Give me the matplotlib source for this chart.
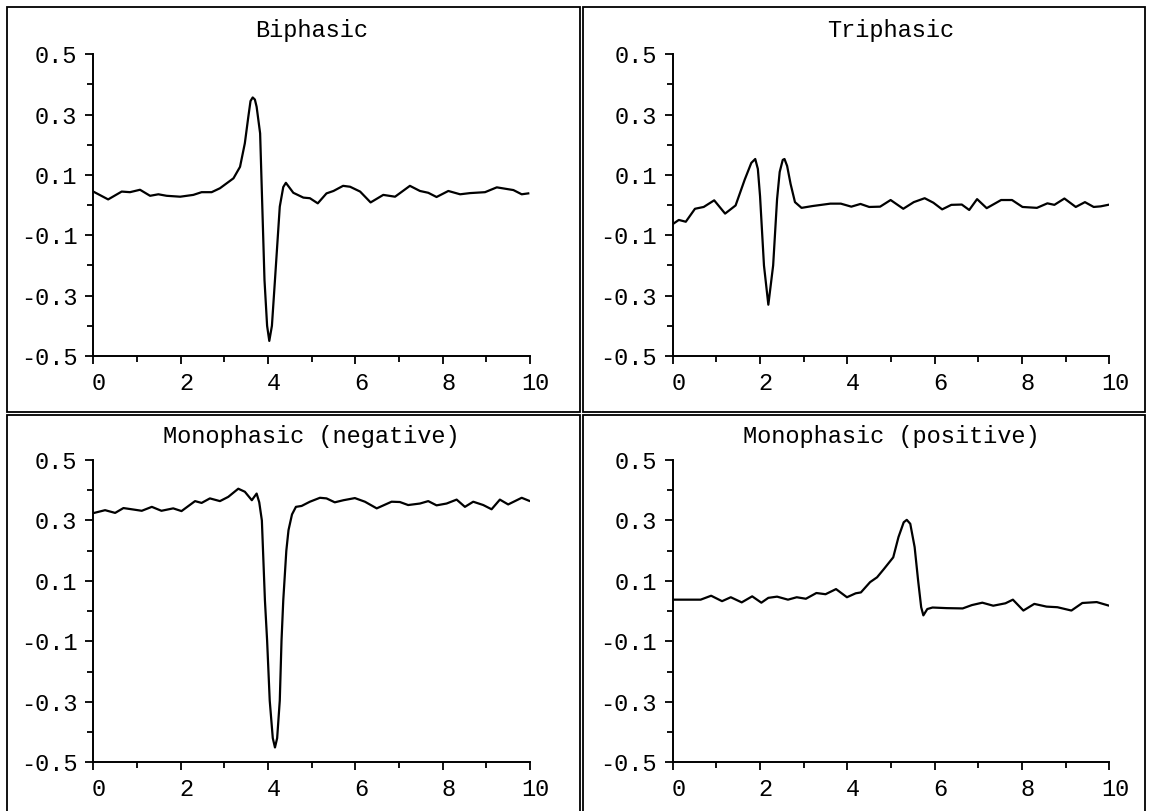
import matplotlib
matplotlib.use("Agg")
import matplotlib.pyplot as plt
from matplotlib.patches import Rectangle
from matplotlib.transforms import ScaledTranslation

plt.rcParams['font.family'] = ['Liberation Mono', 'DejaVu Sans Mono']
plt.rcParams['axes.unicode_minus'] = False

# --- data (time, amplitude) ---
bi_t = [0.0, 0.34, 0.65, 0.84, 1.07, 1.30, 1.49, 1.68, 1.99, 2.29, 2.48, 2.71,
        2.90, 3.21, 3.36, 3.47, 3.55, 3.60, 3.65, 3.70, 3.74, 3.82, 3.92, 3.98,
        4.03, 4.09, 4.16, 4.27, 4.35, 4.41, 4.58, 4.81, 4.96, 5.14, 5.34, 5.50,
        5.72, 5.88, 6.11, 6.35, 6.64, 6.91, 7.25, 7.48, 7.67, 7.86, 8.13, 8.40,
        8.63, 8.97, 9.24, 9.62, 9.81, 9.96]
bi_v = [0.045, 0.019, 0.045, 0.043, 0.051, 0.031, 0.036, 0.031, 0.028, 0.034,
        0.043, 0.043, 0.056, 0.089, 0.127, 0.205, 0.293, 0.345, 0.357, 0.350,
        0.326, 0.238, -0.248, -0.40, -0.45, -0.40, -0.248, -0.005, 0.06, 0.074,
        0.041, 0.025, 0.023, 0.006, 0.039, 0.047, 0.064, 0.061, 0.045, 0.009,
        0.034, 0.028, 0.064, 0.047, 0.041, 0.027, 0.047, 0.036, 0.040, 0.043,
        0.059, 0.050, 0.036, 0.039]

tri_t = [0.02, 0.14, 0.30, 0.51, 0.71, 0.95, 1.20, 1.44, 1.65, 1.80, 1.89, 1.95,
         2.00, 2.09, 2.19, 2.30, 2.39, 2.45, 2.52, 2.56, 2.62, 2.70, 2.80, 2.95,
         3.20, 3.61, 3.85, 4.09, 4.30, 4.50, 4.75, 4.99, 5.28, 5.52, 5.77, 5.97,
         6.17, 6.38, 6.62, 6.79, 6.97, 7.19, 7.52, 7.77, 8.01, 8.34, 8.58, 8.74,
         8.97, 9.23, 9.44, 9.64, 9.80, 9.97]
tri_v = [-0.061, -0.049, -0.055, -0.012, -0.006, 0.016, -0.028, -0.001, 0.085,
         0.140, 0.153, 0.120, 0.030, -0.200, -0.330, -0.200, 0.020, 0.110, 0.150,
         0.153, 0.130, 0.070, 0.010, -0.009, -0.003, 0.005, 0.005, -0.005, 0.004,
         -0.006, -0.005, 0.017, -0.012, 0.010, 0.023, 0.008, -0.014, 0.001, 0.002,
         -0.016, 0.020, -0.010, 0.017, 0.017, -0.006, -0.009, 0.006, 0.001, 0.022,
         -0.006, 0.010, -0.006, -0.004, 0.001]

neg_t = [0.02, 0.27, 0.50, 0.69, 0.88, 1.11, 1.34, 1.56, 1.83, 2.02, 2.33, 2.48,
         2.67, 2.90, 3.09, 3.32, 3.47, 3.63, 3.74, 3.80, 3.86, 3.93, 3.98, 4.04,
         4.11, 4.16, 4.21, 4.27, 4.31, 4.35, 4.42, 4.47, 4.55, 4.64, 4.77, 4.96,
         5.19, 5.34, 5.53, 5.73, 5.99, 6.22, 6.49, 6.83, 7.02, 7.21, 7.48, 7.67,
         7.86, 8.09, 8.32, 8.51, 8.70, 8.93, 9.12, 9.31, 9.50, 9.81, 9.98]
neg_v = [0.325, 0.334, 0.325, 0.341, 0.337, 0.332, 0.345, 0.332, 0.340, 0.331,
         0.364, 0.358, 0.373, 0.364, 0.378, 0.405, 0.395, 0.367, 0.389, 0.360,
         0.300, 0.036, -0.097, -0.296, -0.420, -0.451, -0.420, -0.296, -0.097,
         0.036, 0.200, 0.268, 0.320, 0.345, 0.348, 0.362, 0.375, 0.373, 0.360,
         0.367, 0.374, 0.362, 0.340, 0.362, 0.361, 0.351, 0.356, 0.364, 0.350,
         0.356, 0.369, 0.345, 0.362, 0.351, 0.337, 0.369, 0.353, 0.375, 0.365]

pos_t = [0.02, 0.64, 0.88, 1.13, 1.33, 1.58, 1.82, 2.03, 2.19, 2.39, 2.64, 2.84,
         3.05, 3.29, 3.50, 3.74, 3.99, 4.19, 4.31, 4.52, 4.68, 4.84, 5.05, 5.17,
         5.29, 5.36, 5.44, 5.54, 5.62, 5.69, 5.74, 5.83, 5.95, 6.27, 6.64, 6.85,
         7.09, 7.34, 7.62, 7.79, 8.03, 8.28, 8.56, 8.81, 9.13, 9.38, 9.71, 9.97]
pos_v = [0.038, 0.038, 0.051, 0.033, 0.046, 0.029, 0.049, 0.028, 0.044, 0.048,
         0.038, 0.046, 0.041, 0.060, 0.056, 0.073, 0.046, 0.059, 0.062, 0.096,
         0.112, 0.140, 0.178, 0.245, 0.294, 0.302, 0.289, 0.212, 0.101, 0.013,
         -0.014, 0.007, 0.012, 0.010, 0.009, 0.020, 0.028, 0.018, 0.026, 0.038,
         0.002, 0.024, 0.015, 0.013, 0.002, 0.027, 0.030, 0.019]

titles = ["Biphasic", "Triphasic", "Monophasic (negative)", "Monophasic (positive)"]
series = [(bi_t, bi_v), (tri_t, tri_v), (neg_t, neg_v), (pos_t, pos_v)]

yticks = [-0.5, -0.3, -0.1, 0.1, 0.3, 0.5]
ytick_labels = ["-0.5", "-0.3", "-0.1", "0.1", "0.3", "0.5"]
xticks = [0, 2, 4, 6, 8, 10]
xtick_labels = ["0", "2", "4", "6", "8", "10"]

W, H = 1149, 811
fig = plt.figure(figsize=(W / 100, H / 100), dpi=100)

# axes boxes in pixels: left, top, right, bottom
boxes = [(93.3, 54.3, 530.0, 356.0), (672.7, 54.3, 1109.4, 356.0),
         (93.3, 460.0, 530.0, 762.3), (672.7, 460.0, 1109.4, 762.3)]
# panel frames in pixels
frames = [(7, 7, 579.5, 411.5), (583, 7, 1145, 411.5),
          (7, 414.5, 579.5, 820), (583, 414.5, 1145, 820)]

for (l, t, r, b) in frames:
    fig.add_artist(Rectangle((l / W, 1 - b / H), (r - l) / W, (b - t) / H,
                             transform=fig.transFigure, fill=False,
                             edgecolor='black', linewidth=1.3, clip_on=False))

offset = ScaledTranslation(4 / 72, 0, fig.dpi_scale_trans)

for (l, t, r, b), title, (xs, ys) in zip(boxes, titles, series):
    ax = fig.add_axes([l / W, 1 - b / H, (r - l) / W, (b - t) / H])
    ax.plot(xs, ys, color='black', linewidth=1.6, solid_joinstyle='round')
    ax.set_xlim(0, 10)
    ax.set_ylim(-0.5, 0.5)
    ax.spines['top'].set_visible(False)
    ax.spines['right'].set_visible(False)
    ax.spines['left'].set_linewidth(1.4)
    ax.spines['bottom'].set_linewidth(1.4)
    ax.set_xticks(xticks)
    ax.set_xticklabels(xtick_labels)
    ax.set_xticks([1, 3, 5, 7, 9], minor=True)
    ax.set_yticks(yticks)
    ax.set_yticklabels(ytick_labels)
    ax.set_yticks([-0.4, -0.2, 0.0, 0.2, 0.4], minor=True)
    ax.tick_params(which='major', direction='out', length=5.5, width=1.3,
                   labelsize=17, pad=6)
    ax.tick_params(which='minor', direction='out', length=4.2, width=1.3)
    for lab in ax.get_xticklabels():
        lab.set_transform(lab.get_transform() + offset)
    ax.set_title(title, fontsize=17, pad=12.5)
    ax.patch.set_alpha(0)

fig.savefig("out.png", dpi=100, facecolor='white')
